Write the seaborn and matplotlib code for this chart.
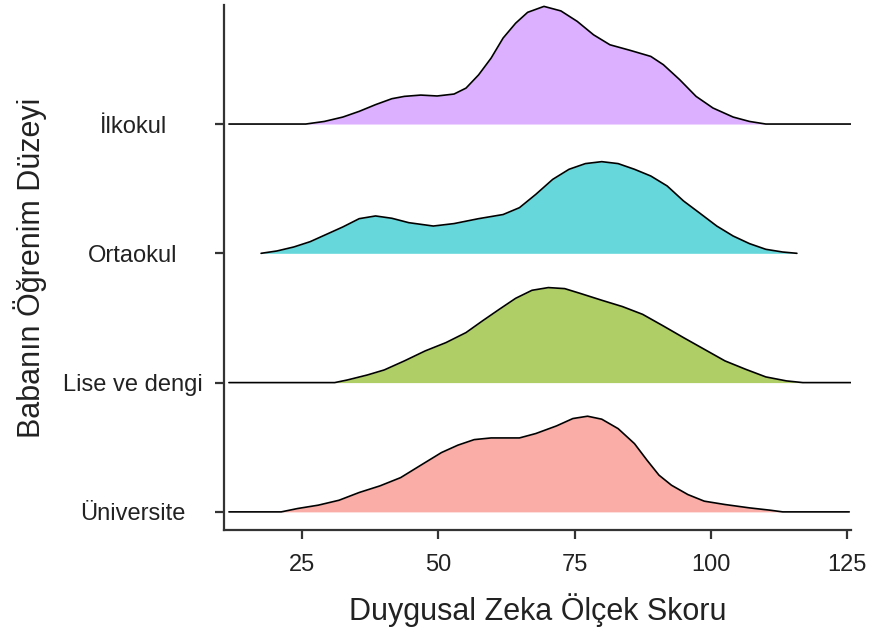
import pandas as pd
import seaborn as sns
import matplotlib
matplotlib.use("Agg")
import matplotlib.pyplot as plt

# groups from bottom ridge to top ridge
groups = ["Üniversite", "Lise ve dengi", "Ortaokul", "İlkokul"]
fill_colors = ["#F8766D", "#7CAE00", "#00BFC4", "#C77CFF"]

# density outlines (height in units of ridge spacing)
univ_x = [11.6, 21.2, 24.2, 28.0, 31.8, 35.5, 39.3, 43.1, 46.8, 50.6, 53.6, 56.6,
          59.7, 64.9, 67.9, 71.7, 74.7, 77.4, 80.0, 83.0, 86.0, 88.3, 90.5, 92.8,
          95.8, 98.8, 102.6, 107.1, 110.9, 113.2, 125.4]
univ_h = [0, 0, 0.026, 0.052, 0.09, 0.15, 0.201, 0.265, 0.361, 0.459, 0.516, 0.559,
          0.572, 0.572, 0.606, 0.665, 0.722, 0.74, 0.717, 0.644, 0.528, 0.40, 0.284, 0.206,
          0.134, 0.083, 0.057, 0.031, 0.013, 0, 0]

lise_x = [11.6, 31.0, 33.3, 37.0, 40.1, 43.8, 47.6, 51.4, 55.1, 58.1, 61.2, 64.2,
          67.2, 70.2, 73.2, 76.2, 80.0, 83.8, 87.5, 91.3, 95.0, 98.8, 102.6, 106.4,
          110.1, 113.9, 116.9, 125.7]
lise_h = [0, 0, 0.02, 0.059, 0.098, 0.168, 0.245, 0.309, 0.387, 0.477, 0.567, 0.652,
          0.714, 0.735, 0.727, 0.688, 0.637, 0.588, 0.528, 0.438, 0.348, 0.258, 0.168, 0.103,
          0.044, 0.013, 0, 0]

orta_x = [17.5, 20.4, 23.5, 26.5, 29.5, 32.5, 35.5, 38.5, 41.5, 44.6, 49.1, 52.9,
          57.4, 61.9, 64.9, 67.9, 71.0, 74.0, 77.0, 80.0, 83.0, 86.0, 89.0, 92.0,
          95.0, 98.1, 101.1, 104.1, 107.1, 110.1, 113.2, 115.8]
orta_h = [0, 0.018, 0.049, 0.09, 0.147, 0.204, 0.268, 0.289, 0.271, 0.237, 0.211, 0.23,
          0.268, 0.30, 0.353, 0.456, 0.572, 0.65, 0.694, 0.709, 0.694, 0.65, 0.598, 0.521,
          0.405, 0.307, 0.211, 0.134, 0.075, 0.031, 0.01, 0]

ilk_x = [11.6, 25.7, 29.1, 32.5, 35.5, 38.5, 41.5, 43.8, 46.8, 49.8, 52.9, 55.1,
         57.4, 59.7, 61.9, 64.2, 66.4, 69.4, 72.5, 75.5, 78.5, 81.5, 85.2, 89.0,
         91.3, 94.3, 97.3, 100.4, 104.1, 107.1, 110.1, 125.7]
ilk_h = [0, 0, 0.02, 0.054, 0.098, 0.15, 0.196, 0.214, 0.224, 0.217, 0.232, 0.278,
         0.38, 0.51, 0.665, 0.78, 0.864, 0.91, 0.875, 0.794, 0.69, 0.613, 0.57, 0.523,
         0.459, 0.343, 0.214, 0.124, 0.054, 0.02, 0, 0]

x_ticks = [25, 50, 75, 100, 125]

curves = [(univ_x, univ_h), (lise_x, lise_h), (orta_x, orta_h), (ilk_x, ilk_h)]

sns.set_theme(style="ticks")
plt.rcParams['font.family'] = ['Liberation Sans', 'DejaVu Sans']

fig = plt.figure(figsize=(8.7, 6.37), dpi=100)
ax = fig.add_axes([0.2575, 0.168, 0.978 - 0.2575, 0.992 - 0.168])

# draw top ridge first so lower ridges sit in front
for i in reversed(range(len(groups))):
    xs, hs = curves[i]
    df = pd.DataFrame({'x': xs, 'y': [i + h for h in hs]})
    ax.fill_between(df['x'], i, df['y'], color=fill_colors[i], alpha=0.6,
                    linewidth=0, zorder=2 * (4 - i))
    sns.lineplot(data=df, x='x', y='y', color='black', linewidth=1.2,
                 sort=False, estimator=None, ax=ax, zorder=2 * (4 - i) + 1)

ax.set_xlim(10.7, 125.7)
ax.set_ylim(-0.14, 3.92)
ax.set_xticks(x_ticks)
ax.set_yticks(range(len(groups)))
ax.set_yticklabels(groups)

for side in ['top', 'right']:
    ax.spines[side].set_visible(False)
for side in ['left', 'bottom']:
    ax.spines[side].set_color('#333333')
    ax.spines[side].set_linewidth(1.6)

ax.tick_params(axis='both', colors='#333333', width=1.6, length=6.5,
               labelcolor='#222222', labelsize=17)
ax.tick_params(axis='y', pad=59)
ax.tick_params(axis='x', pad=11)
for lab in ax.get_yticklabels():
    lab.set_ha('center')

ax.set_xlabel('Duygusal Zeka Ölçek Skoru', fontsize=22, color='#222222', labelpad=12)
ax.set_ylabel('Babanın Öğrenim Düzeyi', fontsize=22, color='#222222')
ax.yaxis.set_label_coords(-0.283, 0.5)
ax.grid(False)

fig.savefig('out.png', dpi=100)
